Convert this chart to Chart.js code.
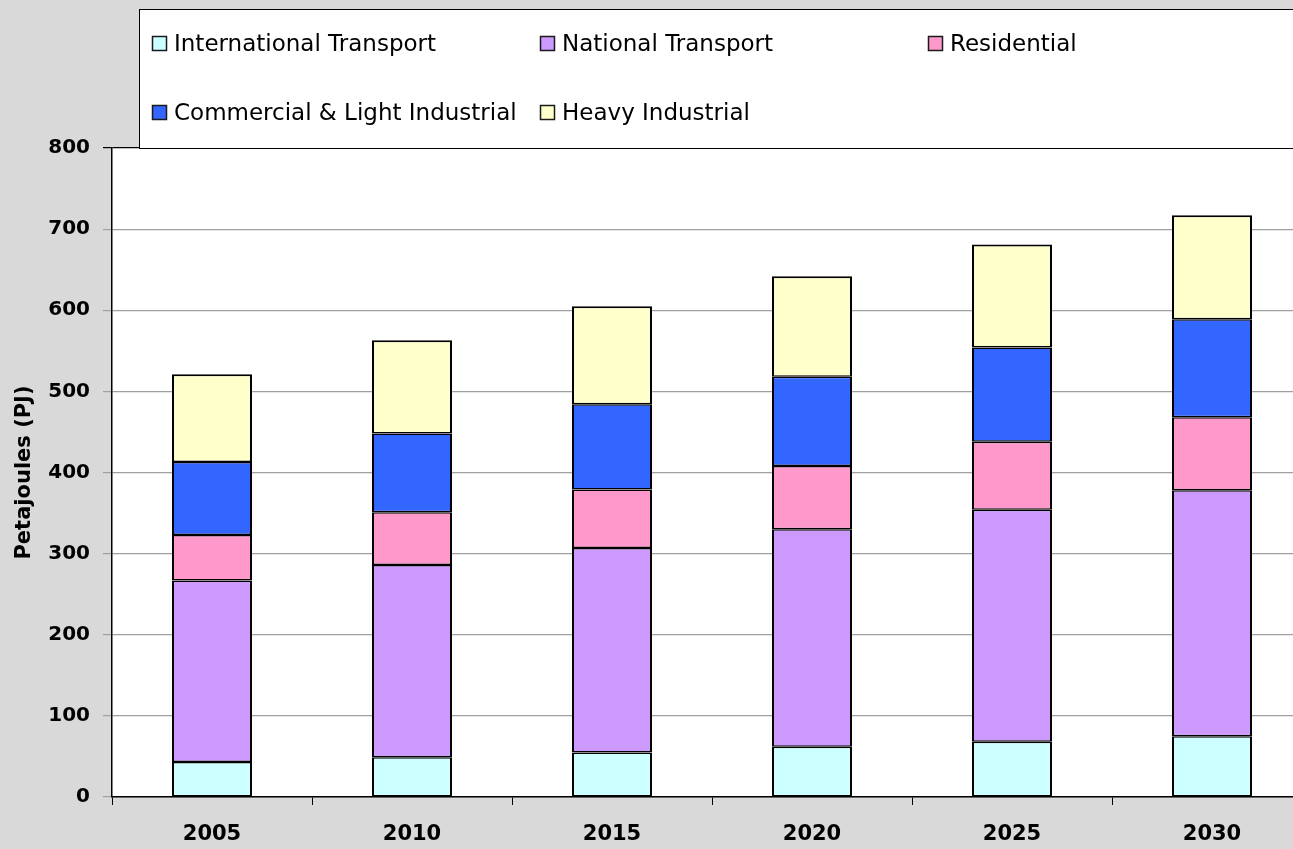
<!DOCTYPE html>
<html>
<head>
  <title>Energy Demand by Sector</title>
  <script src="https://cdn.jsdelivr.net/npm/chart.js@4/dist/chart.umd.min.js"></script>
  <style>
    * { margin: 0; padding: 0; box-sizing: border-box; }
    html, body {
      width: 1293px;
      height: 849px;
      overflow: hidden;
      background: #d9d9d9;
    }
    .chart-wrap {
      width: 1312px;
      height: 849px;
    }
  </style>
</head>
<body>
<div class="chart-wrap">
  <canvas id="energyChart" width="1312" height="849"></canvas>
</div>

<script>
  const years = ['2005', '2010', '2015', '2020', '2025', '2030'];
  const internationalTransport = [43, 49, 55, 62, 68, 75];
  const nationalTransport = [224, 237, 252, 268, 286, 303];
  const residential = [56, 65, 72, 78, 84, 90];
  const commercialLight = [90, 97, 105, 110, 116, 121];
  const heavyIndustrial = [108, 115, 121, 124, 127, 128];

  const FONT = "'DejaVu Sans', Arial, sans-serif";

  // inner edges split so stacked boundaries come out as a single dark line
  function series(label, data, color, topWidth) {
    return {
      label: label,
      data: data,
      backgroundColor: color,
      borderColor: '#000000',
      borderWidth: { top: topWidth, bottom: 1.5, left: 2, right: 2 },
      borderSkipped: false,
      inflateAmount: 0,
      barPercentage: 0.4,
      categoryPercentage: 1.0
    };
  }

  // white plot area + boxed legend in the top band
  const plotBackground = {
    id: 'plotBackground',
    beforeDraw(chart) {
      const { ctx, chartArea } = chart;
      ctx.save();
      ctx.fillStyle = '#ffffff';
      ctx.fillRect(chartArea.left, chartArea.top, chartArea.right - chartArea.left, chartArea.bottom - chartArea.top);
      ctx.restore();
    }
  };

  const boxLegend = {
    id: 'boxLegend',
    afterDraw(chart) {
      const ctx = chart.ctx;
      const top = chart.chartArea.top;
      ctx.save();
      ctx.fillStyle = '#ffffff';
      ctx.fillRect(139, 9, chart.width, top - 9);
      ctx.strokeStyle = '#000000';
      ctx.lineWidth = 1;
      ctx.strokeRect(139.5, 9.5, chart.width, top - 9);

      const cols = [152, 540, 928];
      const rows = [51, 120];
      ctx.font = '23px ' + FONT;
      ctx.textBaseline = 'alphabetic';
      chart.data.datasets.forEach((ds, i) => {
        const x = cols[i % 3];
        const y = rows[Math.floor(i / 3)];
        ctx.fillStyle = ds.backgroundColor;
        ctx.fillRect(x, y - 15, 14, 14);
        ctx.strokeStyle = '#1a1a1a';
        ctx.lineWidth = 1.5;
        ctx.strokeRect(x + 0.5, y - 14.5, 14, 14);
        ctx.fillStyle = '#000000';
        ctx.fillText(ds.label, x + 22, y);
      });
      ctx.restore();
    }
  };

  const ctx = document.getElementById('energyChart').getContext('2d');
  const chart = new Chart(ctx, {
    type: 'bar',
    data: {
      labels: years,
      datasets: [
        series('International Transport', internationalTransport, '#ccffff', 1.5),
        series('National Transport', nationalTransport, '#cc99ff', 1.5),
        series('Residential', residential, '#ff99cc', 1.5),
        series('Commercial & Light Industrial', commercialLight, '#3366ff', 1.5),
        series('Heavy Industrial', heavyIndustrial, '#ffffcc', 2)
      ]
    },
    options: {
      responsive: false,
      animation: false,
      layout: {
        padding: { top: 148, left: 0, right: 0, bottom: 0 }
      },
      scales: {
        x: {
          stacked: true,
          afterFit(scale) { scale.height = 52; },
          grid: {
            display: true,
            offset: true,
            drawOnChartArea: false,
            tickLength: 8,
            color: '#000000'
          },
          border: { color: '#000000', width: 1.5 },
          ticks: {
            color: '#000000',
            padding: 17,
            font: { family: FONT, size: 21, weight: 'bold' }
          }
        },
        y: {
          stacked: true,
          min: 0,
          max: 800,
          afterFit(scale) { scale.width = 112; },
          grid: {
            tickLength: 9,
            color: ctx => ctx.tick && ctx.tick.value === 800 ? '#000000' : '#a0a0a0',
            lineWidth: 1.2
          },
          border: { color: '#000000', width: 1.5 },
          ticks: {
            stepSize: 100,
            color: '#000000',
            padding: 13,
            font: { family: FONT, size: 20, weight: 'bold' }
          },
          title: {
            display: true,
            text: 'Petajoules (PJ)',
            color: '#000000',
            padding: { top: 12, bottom: 0 },
            font: { family: FONT, size: 21, weight: 'bold' }
          }
        }
      },
      plugins: {
        legend: { display: false },
        tooltip: { enabled: false }
      }
    },
    plugins: [plotBackground, boxLegend]
  });
</script>
</body>
</html>
